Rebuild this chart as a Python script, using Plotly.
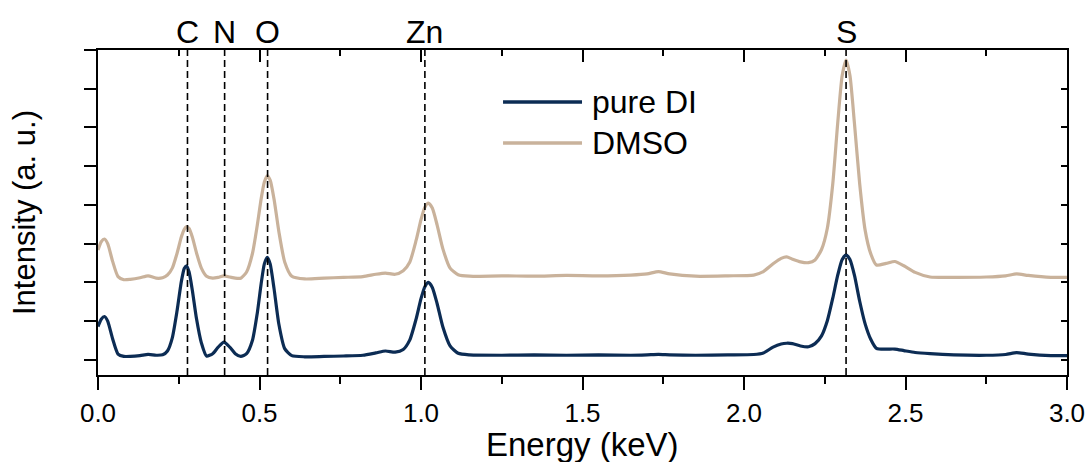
import plotly.graph_objects as go

# ---------------- data ----------------
energy = [
    0.000, 0.010, 0.020, 0.030, 0.045, 0.062, 0.080, 0.100, 0.130, 0.155,
    0.180, 0.200, 0.215, 0.230, 0.245, 0.258, 0.267, 0.274, 0.282, 0.292,
    0.305, 0.320, 0.336, 0.355, 0.372, 0.390, 0.408, 0.425, 0.442, 0.460,
    0.478, 0.493, 0.505, 0.515, 0.524, 0.533, 0.545, 0.560, 0.578, 0.600,
    0.640, 0.700, 0.760, 0.820, 0.860, 0.890, 0.920, 0.945, 0.965, 0.985,
    1.000, 1.012, 1.023, 1.035, 1.050, 1.068, 1.090, 1.115, 1.150, 1.250,
    1.350, 1.450, 1.550, 1.650, 1.700, 1.735, 1.770, 1.850, 1.950, 2.030,
    2.060, 2.090, 2.115, 2.132, 2.150, 2.175, 2.200, 2.220, 2.240, 2.258,
    2.275, 2.290, 2.304, 2.316, 2.328, 2.342, 2.358, 2.375, 2.392, 2.410,
    2.440, 2.467, 2.495, 2.530, 2.576, 2.650, 2.750, 2.810, 2.844, 2.880,
    2.950, 3.000,
]

pure_di = [
    0.86, 1.05, 1.12, 1.00, 0.55, 0.15, 0.09, 0.09, 0.11, 0.14,
    0.12, 0.13, 0.23, 0.57, 1.28, 2.02, 2.36, 2.43, 2.27, 1.80,
    1.06, 0.44, 0.10, 0.16, 0.33, 0.46, 0.33, 0.16, 0.09, 0.16,
    0.50, 1.20, 1.96, 2.48, 2.65, 2.48, 1.84, 0.92, 0.29, 0.11,
    0.08, 0.09, 0.10, 0.12, 0.18, 0.23, 0.20, 0.27, 0.51, 1.06,
    1.58, 1.89, 2.00, 1.87, 1.45, 0.84, 0.36, 0.17, 0.13, 0.12,
    0.13, 0.12, 0.13, 0.12, 0.13, 0.14, 0.13, 0.12, 0.13, 0.14,
    0.18, 0.33, 0.41, 0.43, 0.42, 0.36, 0.34, 0.42, 0.62, 1.01,
    1.60, 2.18, 2.59, 2.71, 2.59, 2.18, 1.52, 0.93, 0.54, 0.30,
    0.28, 0.28, 0.24, 0.19, 0.16, 0.13, 0.12, 0.14, 0.19, 0.15,
    0.11, 0.11,
]

dmso = [
    2.84, 3.05, 3.12, 3.00, 2.55, 2.15, 2.07, 2.08, 2.12, 2.17,
    2.11, 2.12, 2.19, 2.37, 2.76, 3.17, 3.37, 3.44, 3.39, 3.17,
    2.76, 2.37, 2.16, 2.11, 2.13, 2.17, 2.14, 2.11, 2.11, 2.27,
    2.74, 3.47, 4.15, 4.59, 4.75, 4.64, 4.15, 3.31, 2.53, 2.16,
    2.09, 2.11, 2.13, 2.15, 2.21, 2.24, 2.21, 2.30, 2.52, 3.09,
    3.62, 3.94, 4.05, 3.92, 3.48, 2.86, 2.37, 2.20, 2.16, 2.17,
    2.16, 2.18, 2.17, 2.19, 2.22, 2.28, 2.22, 2.16, 2.17, 2.19,
    2.28, 2.48, 2.62, 2.66, 2.60, 2.53, 2.51, 2.58, 2.85, 3.40,
    4.56, 6.10, 7.34, 7.74, 7.34, 6.10, 4.56, 3.35, 2.75, 2.45,
    2.49, 2.54, 2.43, 2.26, 2.14, 2.13, 2.14, 2.17, 2.22, 2.18,
    2.13, 2.13,
]

series_names = ["pure DI", "DMSO"]
series_colors = ["#0c2c54", "#c9b29b"]

elements = ["C", "N", "O", "Zn", "S"]
element_energy = [0.277, 0.392, 0.525, 1.012, 2.316]

x_major_ticks = [0.0, 0.5, 1.0, 1.5, 2.0, 2.5, 3.0]
x_tick_labels = ["0.0", "0.5", "1.0", "1.5", "2.0", "2.5", "3.0"]
x_minor_ticks = [0.25, 0.75, 1.25, 1.75, 2.25, 2.75]
y_ticks = [0, 1, 2, 3, 4, 5, 6, 7, 8]

x_title = "Energy (keV)"
y_title = "Intensity (a. u.)"

x_range = [0.0, 3.0]
y_range = [-0.39, 8.0]

assert len(energy) == len(pure_di) == len(dmso)

FONT = "Liberation Sans, Arial, sans-serif"

fig = go.Figure()
# pure DI on the bottom/left axes, DMSO on the (identical) top/right axes
axes_pairs = [("x", "y"), ("x2", "y2")]
for name, vals, col, (xa, ya) in zip(series_names, [pure_di, dmso], series_colors, axes_pairs):
    fig.add_trace(go.Scatter(
        x=energy, y=vals, mode="lines", name=name, showlegend=False,
        xaxis=xa, yaxis=ya,
        line=dict(color=col, width=3.2, shape="spline", smoothing=0.6),
        hoverinfo="skip",
    ))

# element reference lines and labels
for el, e in zip(elements, element_energy):
    fig.add_shape(type="line", xref="x", yref="paper", x0=e, x1=e, y0=0, y1=1,
                  line=dict(color="black", width=1.6, dash="7px,4px"), layer="above")
    fig.add_annotation(x=e, xref="x", y=1, yref="paper", yanchor="bottom",
                       text=el, showarrow=False, yshift=-2,
                       font=dict(family=FONT, size=32, color="black"))

# manual legend
legend_y = [0.840, 0.714]
for name, col, ly in zip(series_names, series_colors, legend_y):
    fig.add_shape(type="line", xref="paper", yref="paper", x0=0.418, x1=0.4995,
                  y0=ly, y1=ly, line=dict(color=col, width=3.5))
    fig.add_annotation(x=0.508, xref="paper", y=ly, yref="paper",
                       xanchor="left", yanchor="middle", text=name, showarrow=False,
                       font=dict(family=FONT, size=32, color="black"))

# x-axis title (annotation so it can sit low, as in the reference)
fig.add_annotation(x=0.5, xref="paper", y=0, yref="paper", xanchor="center",
                   yanchor="top", yshift=-50, text=x_title, showarrow=False,
                   borderpad=0,
                   font=dict(family=FONT, size=33, color="black"))

axis_common = dict(showline=True, linecolor="black", linewidth=2, automargin=False,
                   showgrid=False, zeroline=False, tickcolor="black", tickwidth=2)

fig.update_layout(
    width=1090, height=462,
    margin=dict(l=98, r=23, t=50, b=87),
    paper_bgcolor="white", plot_bgcolor="white",
    font=dict(family=FONT, color="black"),
    xaxis=dict(range=x_range, tickmode="array", tickvals=x_major_ticks,
               ticktext=x_tick_labels, ticks="outside", ticklen=13,
               ticklabelstandoff=1,
               minor=dict(tickmode="array", tickvals=x_minor_ticks, ticks="outside",
                          ticklen=7, tickwidth=2, tickcolor="black"),
               tickfont=dict(family=FONT, size=26, color="black"),
               **axis_common),
    xaxis2=dict(range=x_range, overlaying="x", side="top", anchor="y",
                tickmode="array", tickvals=x_major_ticks, ticks="inside",
                ticklen=12, showticklabels=False,
                minor=dict(tickmode="array", tickvals=x_minor_ticks, ticks="inside",
                           ticklen=6, tickwidth=2, tickcolor="black"),
                **axis_common),
    yaxis=dict(range=y_range, tickmode="array", tickvals=y_ticks, ticks="outside",
               ticklen=12, showticklabels=False,
               title=dict(text=y_title, font=dict(family=FONT, size=31),
                          standoff=39),
               **axis_common),
    yaxis2=dict(range=y_range, overlaying="y", side="right", anchor="x",
                tickmode="array", tickvals=y_ticks, ticks="inside", ticklen=6,
                showticklabels=False, **axis_common),
)

fig.write_html("out.html")
